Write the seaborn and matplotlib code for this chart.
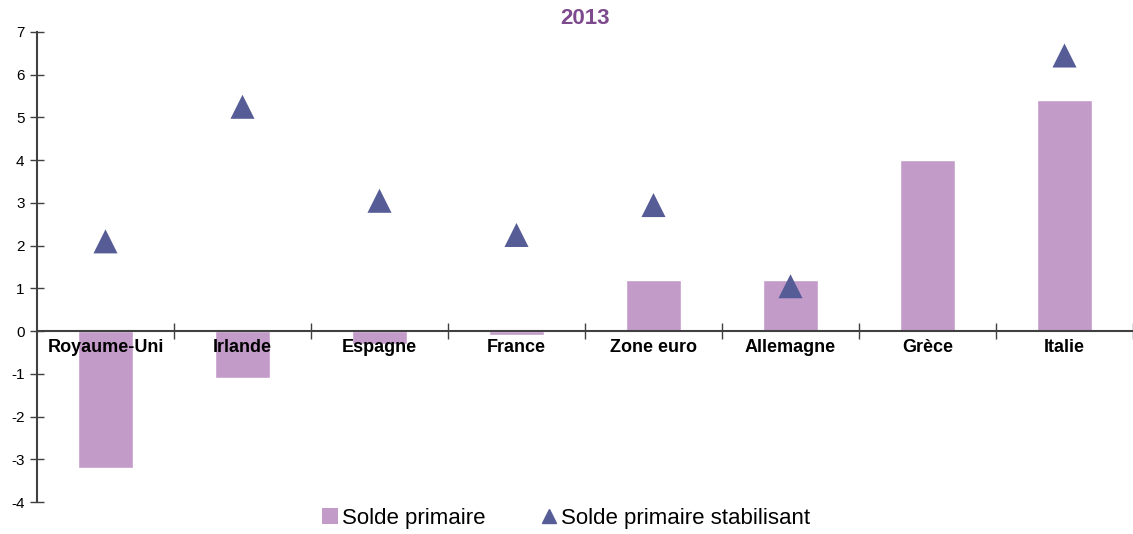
import matplotlib
matplotlib.use("Agg")

import matplotlib.pyplot as plt
import numpy as np
import pandas as pd
import seaborn as sns
from matplotlib.lines import Line2D
from matplotlib.patches import Patch

# Data
pays = ["Royaume-Uni", "Irlande", "Espagne", "France", "Zone euro",
        "Allemagne", "Grèce", "Italie"]
solde_primaire = [-3.2, -1.1, -0.3, -0.1, 1.2, 1.2, 4.0, 5.4]
solde_stabilisant = [2.1, 5.25, 3.05, 2.25, 2.95, 1.05, np.nan, 6.45]
y_ticks = list(range(-4, 8))

BAR_COLOUR = "#C39BC9"
TRI_COLOUR = "#565C96"
TITLE_COLOUR = "#7E4A8E"

sns.set_theme(style="white")
plt.rcParams["font.family"] = ["Liberation Sans", "DejaVu Sans"]
plt.rcParams["axes.unicode_minus"] = False

df = pd.DataFrame({"pays": pays, "primaire": solde_primaire,
                   "stabilisant": solde_stabilisant})

fig = plt.figure(figsize=(11.33, 5.34), dpi=100)
ax = fig.add_axes([37 / 1133, 1 - 502 / 534, 1 - 37 / 1133, 470 / 534])

sns.barplot(data=df, x="pays", y="primaire", color=BAR_COLOUR, width=0.4,
            saturation=1, ax=ax, zorder=1)
sns.scatterplot(data=df.dropna(), x="pays", y="stabilisant", marker="^",
                s=300, color=TRI_COLOUR, edgecolor="none", ax=ax, zorder=6)

ax.set_xlim(-0.5, len(pays) - 0.5)
ax.set_ylim(-4, 7)
ax.set_yticks(y_ticks)
ax.set_xlabel("")
ax.set_ylabel("")

for side in ("top", "right"):
    ax.spines[side].set_visible(False)
ax.spines["bottom"].set_position(("data", 0))
for side in ("left", "bottom"):
    ax.spines[side].set_color("#404040")
    ax.spines[side].set_linewidth(1.5)
    ax.spines[side].set_zorder(5)
ax.xaxis.set_zorder(5)
ax.yaxis.set_zorder(5)

ax.set_xticks(np.arange(len(pays)))
ax.set_xticklabels(pays, fontweight="bold", fontsize=13)
ax.set_xticks(np.arange(len(pays)) + 0.5, minor=True)
ax.tick_params(axis="x", which="major", length=0, pad=6, labelcolor="black")
ax.tick_params(axis="x", which="minor", length=12, direction="inout",
               color="#404040", width=1, bottom=True)
ax.tick_params(axis="y", length=10, direction="inout", color="#404040",
               width=1, labelsize=11, pad=4, left=True, labelcolor="black")

ax.set_title("2013", color=TITLE_COLOUR, fontweight="bold", fontsize=16, pad=6)

handles = [
    Patch(facecolor=BAR_COLOUR, edgecolor="none", label="Solde primaire"),
    Line2D([], [], marker="^", linestyle="none", markersize=10,
           color=TRI_COLOUR, label="Solde primaire stabilisant"),
]
fig.legend(handles=handles, loc="lower center", bbox_to_anchor=(0.5, -0.028),
           ncol=2, frameon=False, fontsize=16, handlelength=0.7,
           handletextpad=0.2, columnspacing=2.5, labelcolor="black")

fig.savefig("out.png", dpi=100)
